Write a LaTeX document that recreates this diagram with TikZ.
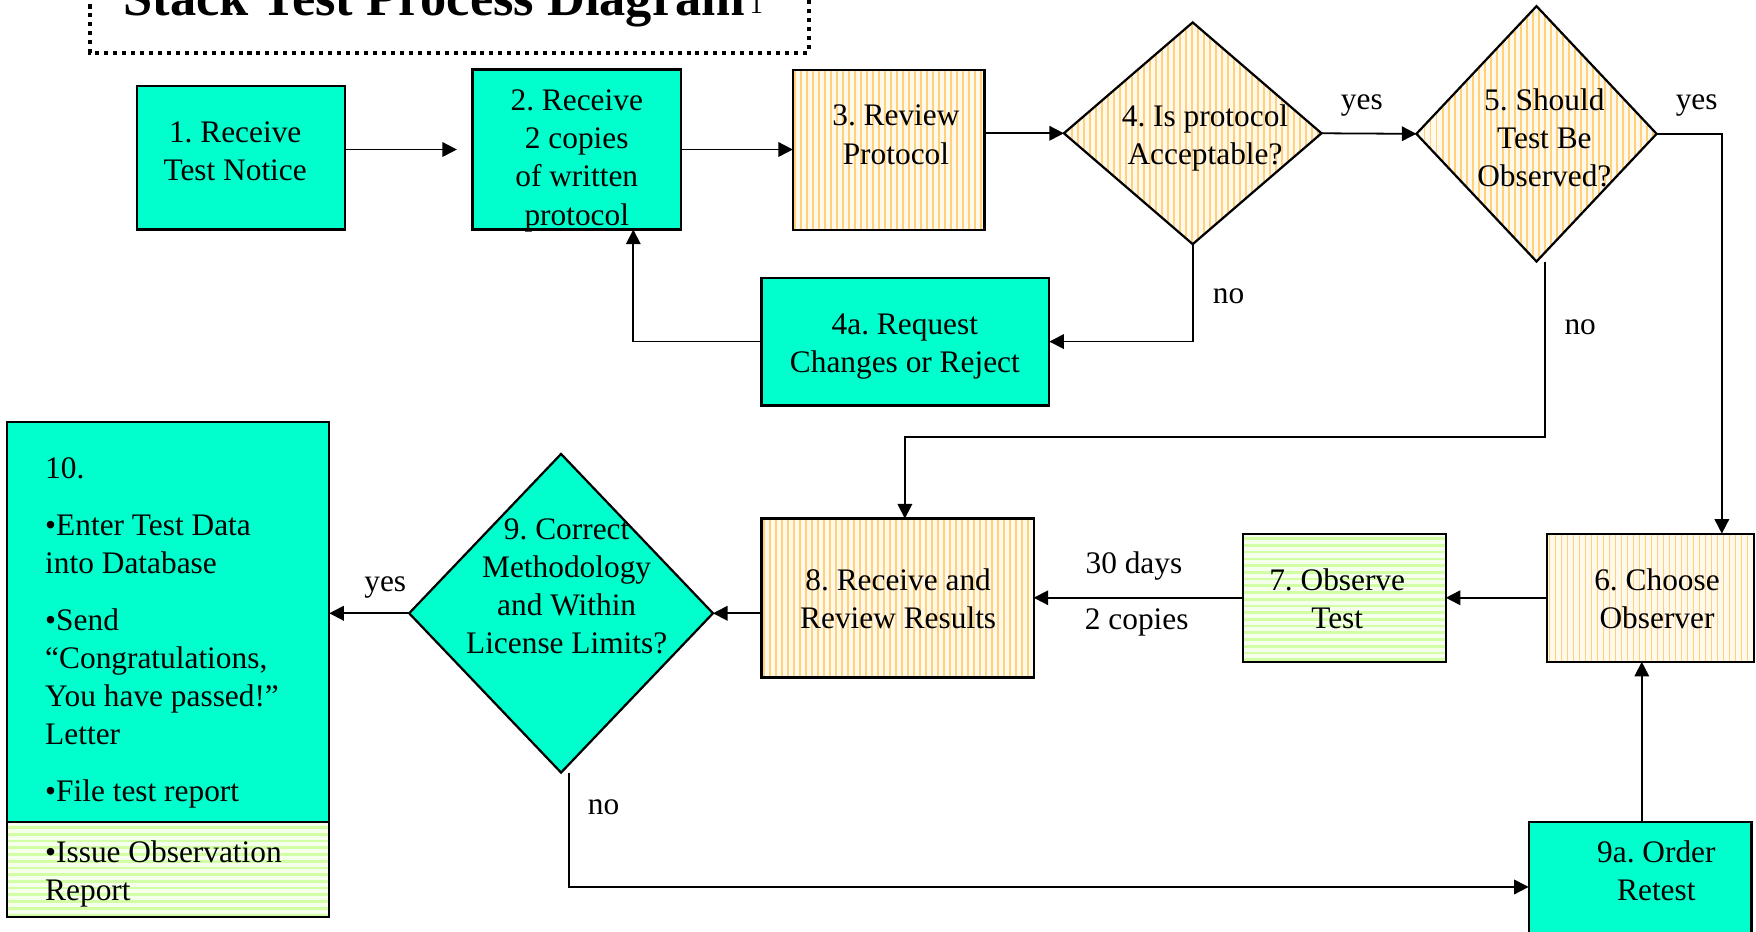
\documentclass[tikz,border=0pt]{standalone}
\usepackage{fontspec}
\setmainfont{Liberation Serif}
\usetikzlibrary{shapes.geometric,arrows.meta}
\definecolor{aqua}{HTML}{00FFCC}
\definecolor{orline}{HTML}{FFD27A}
\definecolor{orbg}{HTML}{FFF8EC}
\definecolor{grline}{HTML}{D2FFA6}
\definecolor{grbg}{HTML}{F5FFEC}
\frenchspacing
\tikzset{
  box/.style={rectangle, draw, line width=1pt, inner sep=0pt, outer sep=0pt},
  dia/.style={diamond, draw, line width=1pt, inner sep=0pt, outer sep=0pt},
  cyanbox/.style={fill=aqua},
  vstripes/.style={fill=orbg, path picture={
      \foreach \k in {0,...,60}{\draw[orline, line width=0.75pt] (path picture bounding box.south west) ++(\k*2.68pt+1pt,0pt) -- ++(0pt,200pt);}}},
  hstripes/.style={fill=grbg, path picture={
      \foreach \k in {0,...,40}{\draw[grline, line width=1.2pt] (path picture bounding box.south west) ++(0pt,\k*3pt+1pt) -- ++(250pt,0pt);}}},
  arr/.style={-{Triangle[length=6.5pt,width=6.5pt]}, line width=0.8pt},
  txt/.style={font=\fontsize{14}{17}\selectfont\frenchspacing, align=center, anchor=north, inner sep=0pt},
  ltxt/.style={font=\fontsize{14}{17}\selectfont\frenchspacing, align=left, anchor=north west, inner sep=0pt},
  lbl/.style={font=\fontsize{14}{17}\selectfont, anchor=base, inner sep=0pt},
  dotline/.style={line width=1.8pt, dash pattern=on 1.8pt off 2.2pt},
}
\begin{document}
\begin{tikzpicture}[x=0.5pt,y=-0.5pt]
\useasboundingbox (0,0) rectangle (1568,832);
\clip (0,0) rectangle (1568,832);

% title
\draw[dotline] (80,-20) -- (80,47) -- (722,47) -- (722,-20);
\node[anchor=base west, inner sep=0pt, font=\bfseries\fontsize{23.4}{28}\selectfont] (title) at (110,14)
  {Stack Test Process Diagram{\normalfont\fontsize{12}{12}\selectfont\,\raisebox{1pt}{1}}};

% top row
\node[box, cyanbox, minimum width=93pt, minimum height=64pt] (b1) at (215,141) {};
\node[txt] (t1) at (210,108) {1. Receive\\Test Notice};

\node[box, cyanbox, minimum width=93pt, minimum height=71.5pt] (b2) at (515,133.5) {};
\node[txt] (t2) at (515,80) {2. Receive\\2 copies\\of written\\protocol};

\node[box, vstripes, minimum width=85.5pt, minimum height=71.5pt] (b3) at (793.5,134) {};
\node[txt] (t3) at (800,93.5) {3. Review\\Protocol};

\node[dia, vstripes, minimum width=115pt, minimum height=99pt] (d4) at (1065,119) {};
\node[txt] (t4) at (1076,93) {4. Is protocol\\Acceptable?};

\node[dia, vstripes, minimum width=107.25pt, minimum height=114pt] (d5) at (1372,119.5) {};
\node[txt] (t5) at (1379,78.6) {5. Should\\Test Be\\Observed?};

\node[box, cyanbox, minimum width=128.5pt, minimum height=57pt] (b4a) at (808.5,305) {};
\node[txt] (t4a) at (808,280) {4a. Request\\Changes or Reject};

% middle row
\node[box, vstripes, minimum width=92.25pt, minimum height=57.25pt] (b6) at (1473.75,533.75) {};
\node[txt] (t6) at (1479.6,507) {6. Choose\\Observer};

\node[box, hstripes, minimum width=90.5pt, minimum height=57.25pt] (b7) at (1200.5,533.75) {};
\node[txt] (t7) at (1194,507) {7. Observe\\Test};

\node[box, vstripes, minimum width=121.5pt, minimum height=71pt] (b8) at (801.5,534) {};
\node[txt] (t8) at (802,507) {8. Receive and\\Review Results};

\node[dia, cyanbox, minimum width=135.65pt, minimum height=142.25pt] (d9) at (501,547.6) {};
\node[txt] (t9) at (506,463) {9. Correct\\Methodology\\and Within\\License Limits?};

\node[box, cyanbox, minimum width=143.75pt, minimum height=178.5pt] (b10) at (150.25,555.5) {};
\node[ltxt] (t10) at (40,408) {10.\\[8.5pt]•Enter Test Data\\into Database\\[8.5pt]•Send\\“Congratulations,\\You have passed!”\\Letter\\[8.5pt]•File test report};
\node[box, hstripes, minimum width=143.75pt, minimum height=42.5pt] (b10g) at (150.25,776.5) {};
\node[ltxt] (t10g) at (40,750) {•Issue Observation\\Report};

\node[box, cyanbox, minimum width=99.5pt, minimum height=58pt] (b9a) at (1464.5,792) {};
\node[txt] (t9a) at (1479,750.4) {9a. Order\\Retest};

% connectors
\draw[arr, shorten >=7pt] (b1.east |- b2.west) -- (b2.west);
\draw[arr] (b2.east) -- (b3.west |- b2.east);
\draw[arr] (b3.east |- d4.west) -- (d4.west);
\draw[arr] (d4.east) -- (d5.west);
\draw[arr] (d5.east) -| ([xshift=-14.25pt]b6.north east);
\draw[arr] ([xshift=3.75pt]d5.south) -- ++(0,156.5) -| ([xshift=3.25pt]b8.north);
\draw[arr] (d4.south) |- (b4a.east);
\draw[arr] (b4a.west) -| ([xshift=25.25pt]b2.south);
\draw[arr] (b6.west) -- (b7.east);
\draw[arr] (b7.west) -- (b8.east |- b7.west);
\draw[arr] (b8.west |- d9.east) -- (d9.east);
\draw[arr] (d9.west) -- (b10.east |- d9.west);
\draw[arr] ([xshift=3.5pt]d9.south) |- (b9a.west);
\draw[arr] ([xshift=0.75pt]b9a.north) -- ([xshift=0.75pt]b9a.north |- b6.south);

% labels
\node[lbl] (l1) at (1216,98) {yes};
\node[lbl] (l2) at (1515,98) {yes};
\node[lbl] (l3) at (1097,271) {no};
\node[lbl] (l4) at (1411,299) {no};
\node[lbl] (l5) at (1012.5,512) {30 days};
\node[lbl] (l6) at (1015,562.5) {2 copies};
\node[lbl] (l7) at (344,528) {yes};
\node[lbl] (l8) at (539,727) {no};
\end{tikzpicture}
\end{document}
